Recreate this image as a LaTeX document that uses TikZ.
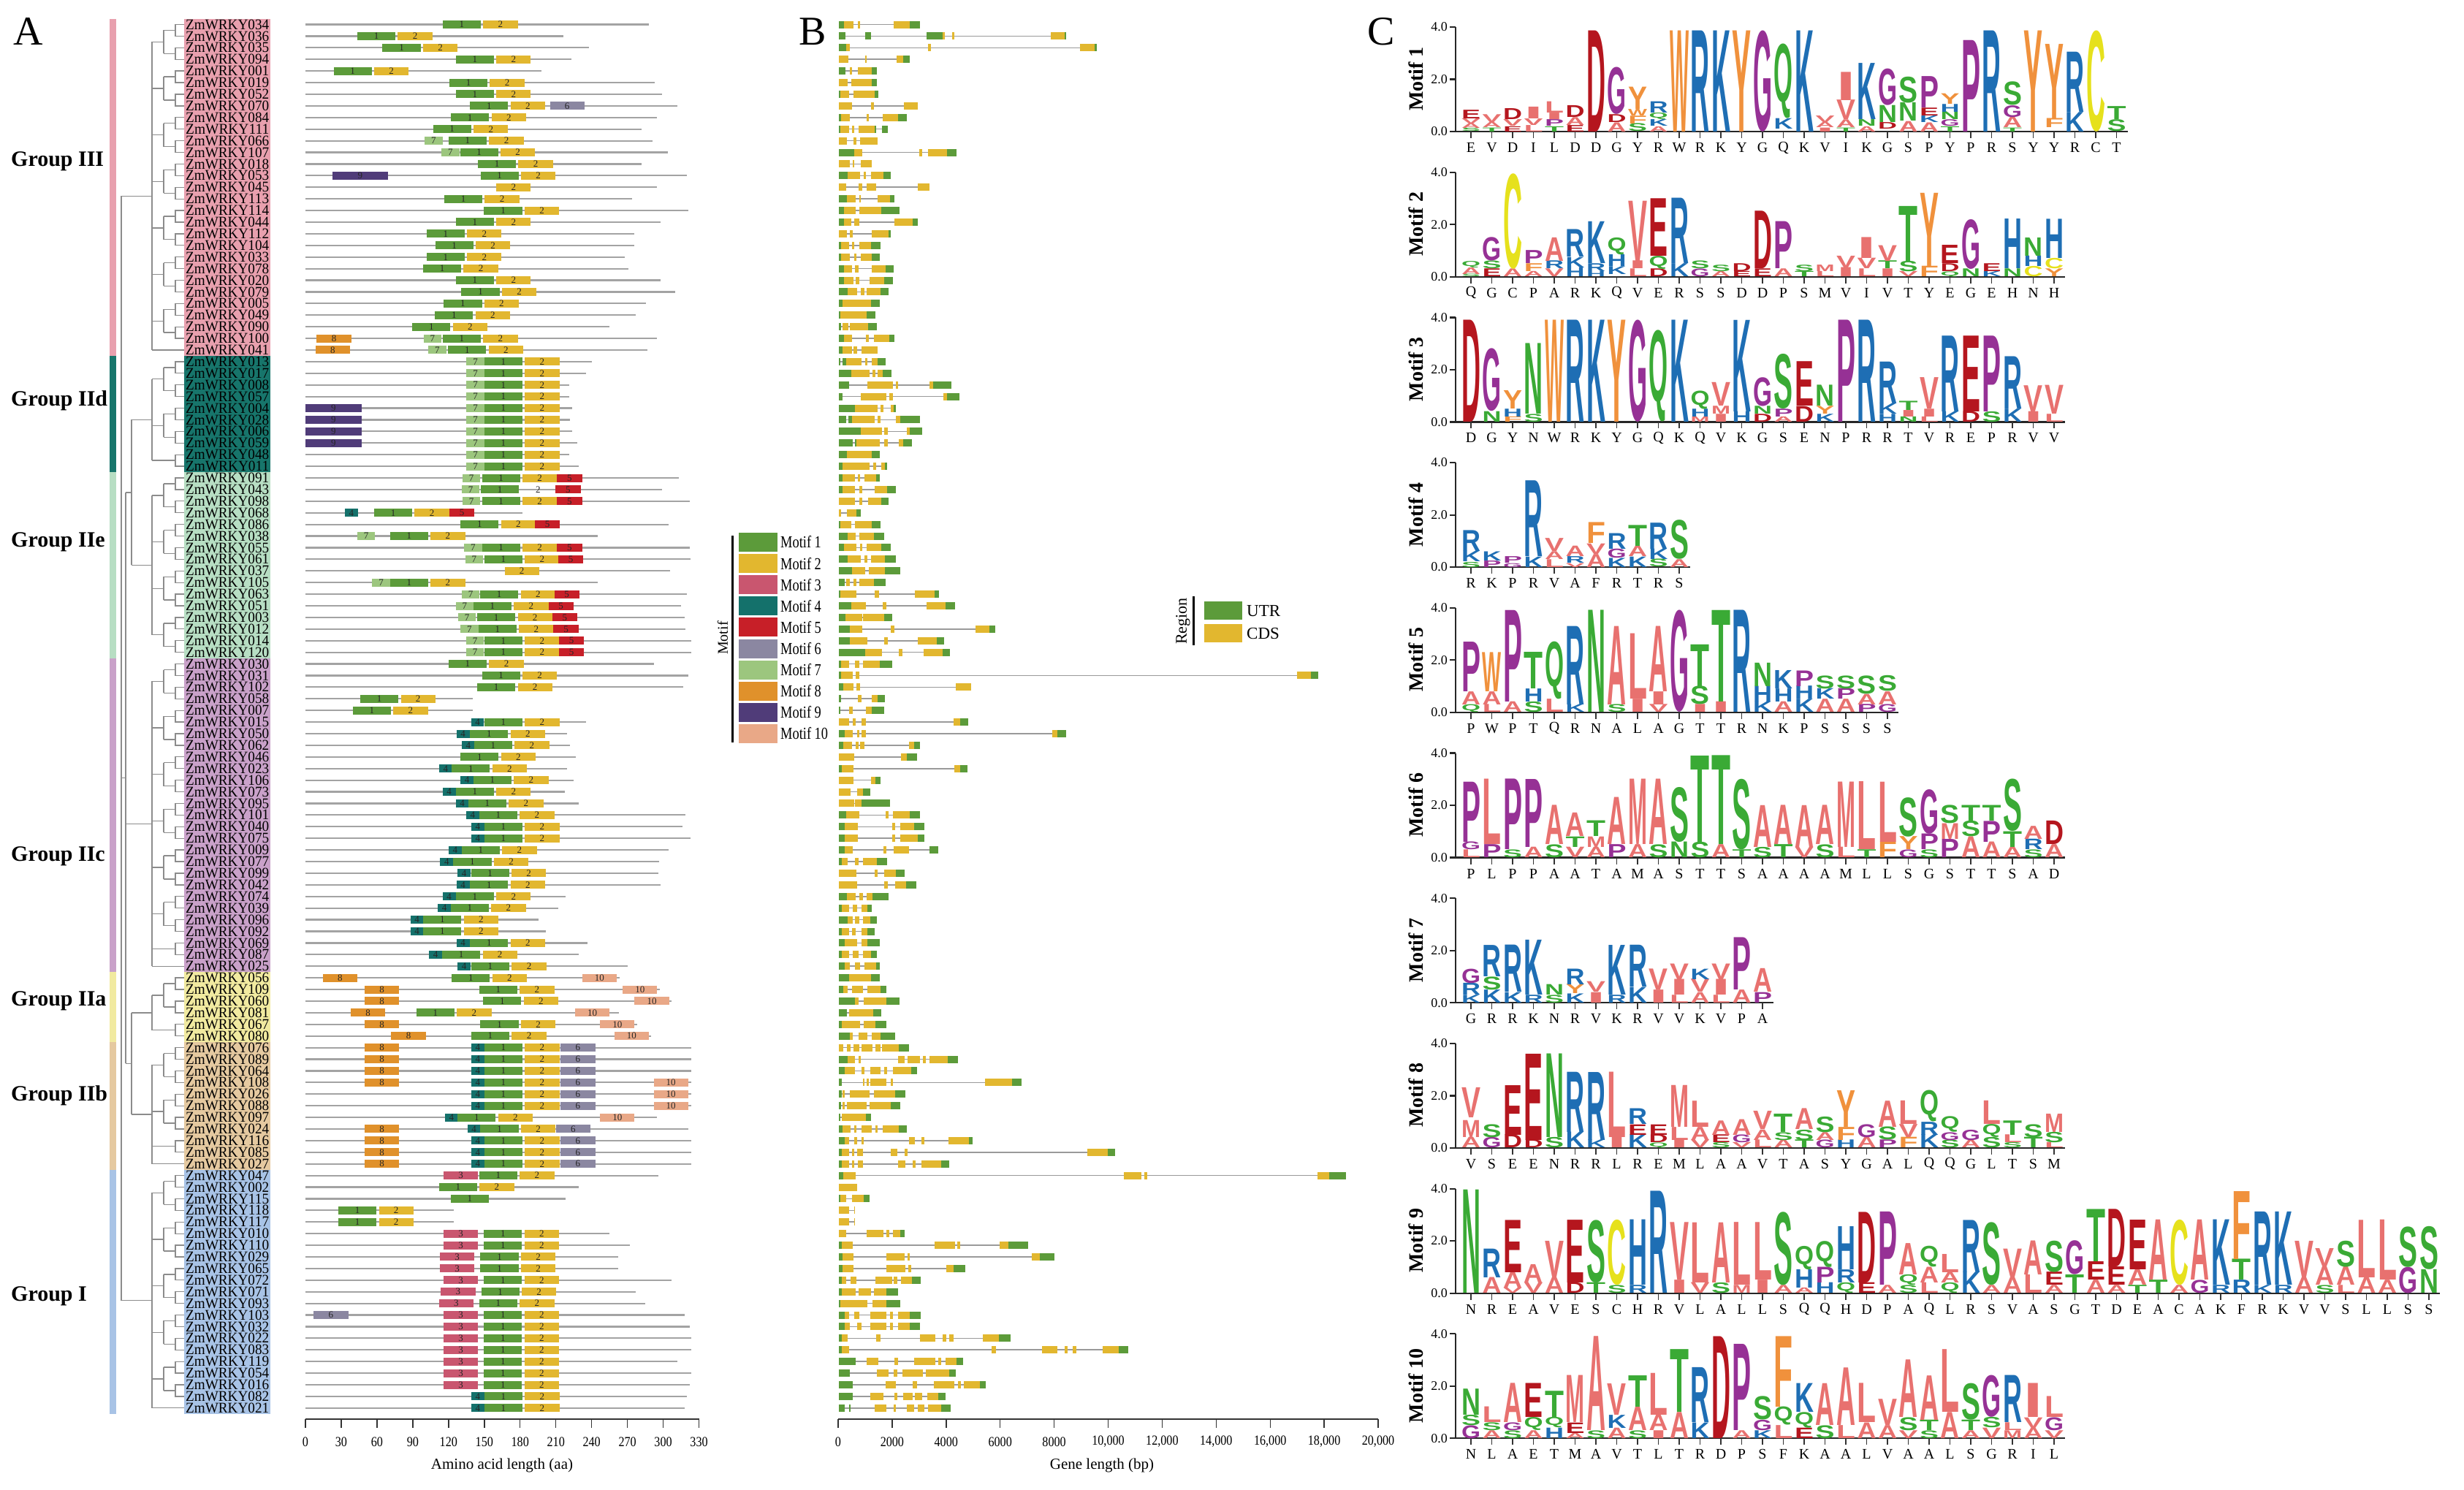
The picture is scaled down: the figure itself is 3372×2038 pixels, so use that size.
\documentclass[tikz,border=0pt]{standalone}
\usepackage{fontspec}
\setmainfont{Liberation Serif}
\newfontfamily\logofont{Liberation Sans}
\usepackage{graphicx}
\definecolor{m1}{HTML}{5C9B3A}\definecolor{m2}{HTML}{E2B72F}\definecolor{m3}{HTML}{C9566F}
\definecolor{m4}{HTML}{14716B}\definecolor{m5}{HTML}{C71F28}\definecolor{m6}{HTML}{8B87A1}
\definecolor{m7}{HTML}{9CC67E}\definecolor{m8}{HTML}{E0912B}\definecolor{m9}{HTML}{503C79}
\definecolor{m10}{HTML}{E9A887}
\definecolor{u}{HTML}{5C9B3A}\definecolor{c}{HTML}{E2B72F}
\definecolor{gIII}{HTML}{E8A0AE}\definecolor{gIId}{HTML}{17756B}\definecolor{gIIe}{HTML}{B7DEC3}
\definecolor{gIIc}{HTML}{C9A1C9}\definecolor{gIIa}{HTML}{F1EAA0}\definecolor{gIIb}{HTML}{E5C9A0}
\definecolor{gI}{HTML}{A8C3E6}
\definecolor{treegray}{HTML}{8C8C8C}\definecolor{pgray}{HTML}{A3A3A3}\definecolor{igray}{HTML}{9A9A9A}
\definecolor{aaD}{HTML}{B5161E}\definecolor{aaE}{HTML}{B5161E}
\definecolor{aaK}{HTML}{1E6EB4}\definecolor{aaR}{HTML}{1E6EB4}\definecolor{aaH}{HTML}{1E6EB4}
\definecolor{aaG}{HTML}{963195}\definecolor{aaP}{HTML}{963195}
\definecolor{aaQ}{HTML}{3AAA35}\definecolor{aaS}{HTML}{3AAA35}\definecolor{aaT}{HTML}{3AAA35}\definecolor{aaN}{HTML}{3AAA35}
\definecolor{aaW}{HTML}{F0913C}\definecolor{aaY}{HTML}{F0913C}\definecolor{aaF}{HTML}{F0913C}
\definecolor{aaC}{HTML}{E6E11C}
\definecolor{aaA}{HTML}{E8716F}\definecolor{aaV}{HTML}{E8716F}\definecolor{aaL}{HTML}{E8716F}\definecolor{aaI}{HTML}{E8716F}\definecolor{aaM}{HTML}{E8716F}
\pgfmathdeclarefunction{ry}{1}{\pgfmathparse{33.5+(#1-1)*15.91}}
\tikzset{
 tree/.style={draw=treegray,line width=1.3pt},
 pline/.style={draw=pgray,line width=2.2pt},
 intron/.style={draw=igray,line width=1.6pt},
 mnum/.style={inner sep=0pt,font=\fontsize{13}{13}\selectfont,text=black!85},
 axisl/.style={draw=black!80,line width=2.6pt},
 tickl/.style={draw=black!80,line width=1.4pt},
 ticklab/.style={inner sep=0pt,font=\fontsize{19}{19}\selectfont},
 axtitle/.style={inner sep=0pt,font=\fontsize{21}{21}\selectfont},
 glab/.style={inner sep=0pt,anchor=west,font=\bfseries\fontsize{30}{30}\selectfont},
 leg/.style={inner sep=0pt,font=\fontsize{23}{23}\selectfont},
 laxis/.style={draw=black!85,line width=2.2pt},
 xlab/.style={inner sep=0pt,font=\fontsize{20}{20}\selectfont},
 ytlab/.style={inner sep=0pt,font=\fontsize{18}{18}\selectfont},
 mlab/.style={inner sep=0pt,rotate=90,font=\bfseries\fontsize{28}{28}\selectfont},
 panel/.style={inner sep=0pt,font=\fontsize{56}{56}\selectfont}
}
% tree helpers
\newcommand\pairs[1]{\foreach \k in {#1}{%
  \pgfmathsetmacro\ya{ry(\k)}\pgfmathsetmacro\yb{ry(\k+1)}\pgfmathsetmacro\ym{ry(\k+0.5)}%
  \draw[tree] (252,\ya) -- (240,\ya) -- (240,\yb) -- (252,\yb);
  \draw[tree] (240,\ym) -- (224,\ym);}}
\newcommand\quads[1]{\foreach \k in {#1}{%
  \pgfmathsetmacro\ya{ry(\k+0.5)}\pgfmathsetmacro\yb{ry(\k+2.5)}\pgfmathsetmacro\ym{ry(\k+1.5)}%
  \draw[tree] (224,\ya) -- (224,\yb);
  \draw[tree] (224,\ym) -- (208,\ym);}}
\newcommand\tl[3]{\draw[tree] (#1,{ry(#3)}) -- (#2,{ry(#3)});}
\newcommand\tv[3]{\draw[tree] (#1,{ry(#2)}) -- (#1,{ry(#3)});}
% protein helpers
\newcommand\prot[2]{\draw[pline] (418,{ry(#1)}) -- ({418+1.632*(#2)},{ry(#1)});}
\newcommand\mb[3]{%
 \pgfmathsetmacro\mxa{418+1.632*(#3)}%
 \pgfmathsetmacro\mxb{418+1.632*(#3+{0,32,29,29,11,21,29,15,29,47,29}[#2])}%
 \pgfmathsetmacro\myy{ry(#1)}%
 \fill[fill=m#2] (\mxa,\myy-5.5) rectangle (\mxb,\myy+5.5);
 \node[mnum] at ({(\mxa+\mxb)/2},\myy) {#2};}
\newcommand\gy[2]{\mb{#1}{1}{#2}\mb{#1}{2}{#2+34}}
% gene helper
\newcommand\gene[4]{%
 \pgfmathsetmacro\gyy{ry(#1)}%
 \draw[intron] (#2,\gyy) -- (#3,\gyy);
 \foreach \sa/\ea/\ca in {#4} {\fill[fill=\ca] (\sa,\gyy-5) rectangle (\ea,\gyy+5);}}
% logo helpers (35.75 px per bit)
\newcommand\lgo[5]{%
 \pgfmathsetmacro\lx{2013+(#2-1)*28.5}%
 \pgfmathsetmacro\lyy{180+(#1-1)*198.7-(#4)*35.75}%
 \pgfmathsetmacro\lh{max(((#5)-(#4))*35.75,0.5)}%
 \node[inner sep=0pt,outer sep=0pt,anchor=south] at (\lx,\lyy) {\textcolor{aa#3}{\resizebox*{26pt}{\lh pt}{\logofont\bfseries #3}}};}
\newcommand\logoset[2]{\foreach \qp/\ql/\qb/\qt in {#2} {\lgo{#1}{\qp}{\ql}{\qb}{\qt}}}
\newcommand\logoaxis[3]{%
 \pgfmathsetmacro\yz{180+(#1-1)*198.7}%
 \pgfmathsetmacro\xe{2013+(#2-1)*28.5+15}%
 \draw[laxis] (1992,\yz-143) -- (1992,\yz) -- (\xe,\yz);
 \foreach \tv in {0,2,4} {\draw[laxis] (1992,\yz-\tv*35.75) -- (1984,\yz-\tv*35.75);
   \node[ytlab,anchor=east] at (1981,\yz-\tv*35.75) {\tv.0};}
 \foreach \lt [count=\lp] in {#3} {\draw[tickl] ({2013+(\lp-1)*28.5},\yz) -- ++(0,9);
   \node[xlab] at ({2013+(\lp-1)*28.5},\yz+22) {\lt};}
 \node[mlab] at (1938,\yz-72) {Motif #1};}
\begin{document}
\begin{tikzpicture}[x=1pt,y=-1pt]
\useasboundingbox (0,0) rectangle (3372,2038);
\fill[white] (0,0) rectangle (3372,2038);
% ---------- panel letters
\node[panel] at (39,43) {A};
\node[panel] at (1112,43) {B};
\node[panel] at (1890,43) {C};
% ---------- group strips
\foreach \a/\b/\col in {1/29/gIII,30/39/gIId,40/55/gIIe,56/82/gIIc,83/88/gIIa,89/99/gIIb,100/120/gI}{
 \fill[fill=\col] (150,{ry(\a-0.5)}) rectangle (159,{ry(\b+0.5)});
 \fill[fill=\col] (252,{ry(\a-0.5)}) rectangle (370,{ry(\b+0.5)});}
\node[glab] at (15,221) {Group III};
\node[glab] at (15,548) {Group IId};
\node[glab] at (15,742) {Group IIe};
\node[glab] at (15,1172) {Group IIc};
\node[glab] at (15,1370) {Group IIa};
\node[glab] at (15,1499) {Group IIb};
\node[glab] at (15,1774) {Group I};
% ---------- tree
\pairs{1,3,...,27}\quads{1,5,...,25}\tl{208}{252}{29}\tv{208}{2.5}{29}\tl{166}{208}{15.75}
\pairs{30,32,...,38}\quads{30,34}\tl{208}{224}{38.5}\tv{208}{31.5}{38.5}\tl{180}{208}{35}
\pairs{40,42,...,54}\quads{40,44,48,52}\tv{208}{41.5}{53.5}\tl{180}{208}{47.5}
\pairs{56,58,...,80}\quads{56,60,...,76}\tl{208}{224}{80.5}\tl{208}{252}{82}\tv{208}{57.5}{82}\tl{172}{208}{69.75}
\pairs{83,85,87}\quads{83}\tl{208}{224}{87.5}\tv{208}{84.5}{87.5}\tl{180}{208}{86}
\pairs{89,91,...,97}\quads{89,93}\tl{208}{224}{97.5}\tl{208}{252}{99}\tv{208}{90.5}{99}\tl{180}{208}{94.75}
\pairs{100,102,...,118}\quads{100,104,...,116}\tl{208}{252}{120}\tv{208}{101.5}{120}\tl{166}{208}{110.75}
\tv{180}{35}{47.5}\tl{172}{180}{41.25}
\tv{180}{86}{94.75}\tl{172}{180}{90.375}
\tv{172}{41.25}{90.375}\tl{166}{172}{65.8}
\tv{166}{15.75}{110.75}
% ---------- gene names
\foreach \r/\gn in {1/034,2/036,3/035,4/094,5/001,6/019,7/052,8/070,9/084,10/111,11/066,12/107,13/018,14/053,15/045,16/113,17/114,18/044,19/112,20/104,21/033,22/078,23/020,24/079,25/005,26/049,27/090,28/100,29/041,30/013,31/017,32/008,33/057,34/004,35/028,36/006,37/059,38/048,39/011,40/091,41/043,42/098,43/068,44/086,45/038,46/055,47/061,48/037,49/105,50/063,51/051,52/003,53/012,54/014,55/120,56/030,57/031,58/102,59/058,60/007,61/015,62/050,63/062,64/046,65/023,66/106,67/073,68/095,69/101,70/040,71/075,72/009,73/077,74/099,75/042,76/074,77/039,78/096,79/092,80/069,81/087,82/025,83/056,84/109,85/060,86/081,87/067,88/080,89/076,90/089,91/064,92/108,93/026,94/088,95/097,96/024,97/116,98/085,99/027,100/047,101/002,102/115,103/118,104/117,105/010,106/110,107/029,108/065,109/072,110/071,111/093,112/103,113/032,114/022,115/083,116/119,117/054,118/016,119/082,120/021}
 {\node[inner sep=0pt,anchor=west] at (254,{ry(\r)}) {\resizebox{114pt}{13.5pt}{ZmWRKY\gn}};}
% ---------- proteins (panel A)
\prot{1}{288}\gy{1}{115}
\prot{2}{216}\gy{2}{43.5}
\prot{3}{238}\gy{3}{64.6}
\prot{4}{223}\gy{4}{126}
\prot{5}{198}\gy{5}{23.6}
\prot{6}{293}\gy{6}{120.7}
\prot{7}{299}\gy{7}{126}
\prot{8}{312}\gy{8}{138}\mb{8}{6}{205}
\prot{9}{294.5}\gy{9}{122}
\prot{10}{282}\gy{10}{107}
\prot{11}{291}\mb{11}{7}{100}\gy{11}{120}
\prot{12}{304}\mb{12}{7}{114}\gy{12}{129.6}
\prot{13}{282}\gy{13}{144.6}
\prot{14}{320}\mb{14}{9}{22.4}\gy{14}{146.8}
\prot{15}{294.5}\mb{15}{2}{160}
\prot{16}{274}\gy{16}{116.4}
\prot{17}{321}\gy{17}{149.8}
\prot{18}{298}\gy{18}{126}
\prot{19}{276}\gy{19}{101.5}
\prot{20}{276}\gy{20}{108.8}
\prot{21}{268}\gy{21}{101.5}
\prot{22}{271}\gy{22}{98.6}
\prot{23}{298}\gy{23}{126}
\prot{24}{310}\gy{24}{130.8}
\prot{25}{285.5}\gy{25}{116}
\prot{26}{276.8}\gy{26}{108.6}
\prot{27}{255}\gy{27}{89.6}
\prot{28}{295}\mb{28}{8}{9.4}\mb{28}{7}{99}\gy{28}{115}
\prot{29}{287}\mb{29}{8}{8.4}\mb{29}{7}{103}\gy{29}{119.6}
\foreach \r/\L in {30/240,31/235,32/221,33/221,34/223.5,35/221.7,36/223.5,37/228,38/221,39/229}
 {\prot{\r}{\L}\mb{\r}{7}{135}\gy{\r}{150}}
\foreach \r in {34,35,36,37} {\mb{\r}{9}{0}}
\prot{40}{313}\mb{40}{7}{131.6}\gy{40}{148}\mb{40}{5}{211}
\prot{41}{299}\mb{41}{7}{131}\mb{41}{1}{147}\node[mnum] at ({418+1.632*195},{ry(41)}) {2};\mb{41}{5}{209.7}
\prot{42}{322}\mb{42}{7}{131.6}\gy{42}{148}\mb{42}{5}{211}
\prot{43}{181.8}\mb{43}{4}{33}\gy{43}{57.6}\mb{43}{5}{120.7}
\prot{44}{304.5}\gy{44}{130}\mb{44}{5}{192.4}
\prot{45}{244.8}\mb{45}{7}{43.5}\gy{45}{70.9}
\prot{46}{322}\mb{46}{7}{133}\gy{46}{148}\mb{46}{5}{211}
\prot{47}{323}\mb{47}{7}{134}\gy{47}{150}\mb{47}{5}{212}
\prot{48}{306}\mb{48}{2}{167}
\prot{49}{244.8}\mb{49}{7}{56}\gy{49}{70.9}
\prot{50}{320}\mb{50}{7}{131}\gy{50}{146.5}\mb{50}{5}{208.7}
\prot{51}{314.7}\mb{51}{7}{126}\gy{51}{140.8}\mb{51}{5}{203.8}
\prot{52}{318}\mb{52}{7}{128}\gy{52}{144}\mb{52}{5}{207}
\prot{53}{318.6}\mb{53}{7}{130}\gy{53}{145}\mb{53}{5}{208}
\prot{54}{323.5}\mb{54}{7}{134.8}\gy{54}{150}\mb{54}{5}{212.6}
\prot{55}{323.5}\mb{55}{7}{134.8}\gy{55}{150}\mb{55}{5}{212.6}
\prot{56}{292}\gy{56}{120}
\prot{57}{321}\gy{57}{148}
\prot{58}{317}\gy{58}{144}
\prot{59}{140.4}\gy{59}{46}
\prot{60}{140.4}\gy{60}{39.7}
\prot{64}{226.7}\gy{64}{130}
\foreach \r/\L/\f/\g in {61/235/138.8/150,62/219.5/126.6/138,63/222/131/141.4,65/219.5/112/122.7,66/225/130/140.8,67/217.5/115/126,68/229.4/126/136.5,69/318.6/134.8/145.7,70/316/139/150,71/323/139/150,72/304.5/120/131,73/296.6/113/124,74/295.7/127.6/138.8,75/298/126.6/138,76/218/115/126,77/212/111/121.8,78/195.6/88/98.8,79/201.5/88/98.8,80/236.5/126.6/138,81/229.4/103.7/114.6,82/270/127.6/139}
 {\prot{\r}{\L}\mb{\r}{4}{\f}\gy{\r}{\g}}
\foreach \r/\L/\e/\g/\t in {83/263.5/14.5/122.7/232,84/297.3/49.6/145.7/266,85/307/49.6/149/276,86/263/38/93/226,87/278/49.6/146.7/247,88/289.8/71.9/139/259}
 {\prot{\r}{\L}\mb{\r}{8}{\e}\gy{\r}{\g}\mb{\r}{10}{\t}}
\foreach \r in {89,90,91,92,97,98,99} {\prot{\r}{323.5}\mb{\r}{8}{49.6}\mb{\r}{4}{139}\gy{\r}{150}\mb{\r}{6}{214}}
\foreach \r in {93,94} {\prot{\r}{323.5}\mb{\r}{4}{139}\gy{\r}{150}\mb{\r}{6}{214}}
\foreach \r in {92,93,94} {\mb{\r}{10}{292}}
\prot{95}{294.7}\mb{95}{4}{117}\gy{95}{127.6}\mb{95}{10}{247}
\prot{96}{321}\mb{96}{8}{49.6}\mb{96}{4}{135.8}\gy{96}{146.7}\mb{96}{6}{210}
\prot{100}{295.7}\mb{100}{3}{115.8}\gy{100}{145.7}
\prot{101}{229.4}\gy{101}{112}
\prot{102}{218}\mb{102}{1}{121.8}
\prot{103}{124.4}\gy{103}{27.6}
\prot{104}{124.4}\gy{104}{27.6}
\foreach \r/\L/\t/\g in {105/254.7/115.8/149.6,106/272/115.8/149.6,107/262/112.7/146.7,108/262/112.7/146.7,109/307/115.8/149.6,110/277/113.5/147.4,111/285/112/145.7,112/318/115.8/149.6,113/322/115.8/149.6,114/323.5/115.8/149.6,115/323.5/115.8/149.6,116/312/115.8/149.6,117/323.5/115.8/149.6,118/322/115.8/149.6}
 {\prot{\r}{\L}\mb{\r}{3}{\t}\gy{\r}{\g}}
\mb{112}{6}{6.9}
\prot{119}{320}\mb{119}{4}{139}\gy{119}{150}
\prot{120}{318}\mb{120}{4}{139}\gy{120}{150}
% ---------- axis A
\draw[axisl] (418,1942) -- (956.6,1942);
\foreach \i [evaluate=\i as \lab using int(30*\i)] in {0,...,11}
 {\draw[tickl] ({418+48.96*\i},1942) -- ({418+48.96*\i},1954);
  \node[ticklab] at ({418+48.96*\i},1973) {\scalebox{0.85}[1]{\lab}};}
\node[axtitle] at (687,2005) {Amino acid length (aa)};
% ---------- motif legend
\draw[line width=3pt] (1002.5,733) -- (1002.5,1016);
\node[rotate=90,inner sep=0pt,font=\fontsize{20}{20}\selectfont] at (989,873) {Motif};
\foreach \k in {1,...,10} {\pgfmathsetmacro\lyl{729+(\k-1)*29.1}
 \fill[fill=m\k] (1011,\lyl) rectangle (1064,\lyl+26);
 \node[leg,anchor=west] at (1068,\lyl+13) {\scalebox{0.8}[1]{Motif \k}};}
% ---------- gene structures (panel B)
\begin{scope}[shift={(1130,0)},xscale=0.4464]
\gene{1}{40}{290}{40/57/u,57/85/c,98/105/c,208/258/c,258/290/u}
\gene{2}{40}{738}{40/60/u,120/138/u,308/358/u,358/366/c,388/395/c,690/733/c,733/738/u}
\gene{3}{40}{832}{40/62/u,62/75/c,314/322/c,780/825/c,825/832/u}
\gene{4}{40}{258}{40/70/c,120/126/c,218/237/c,237/258/u}
\gene{5}{40}{156}{40/60/u,73/80/c,98/140/c,140/156/u}
\gene{6}{40}{156}{40/67/c,78/140/c,140/156/u}
\gene{7}{40}{162}{40/45/u,45/72/c,85/150/c,150/162/u}
\gene{8}{40}{283}{40/80/c,138/148/c,240/283/c}
\gene{9}{40}{248}{40/46/u,46/75/c,125/132/c,175/222/c,222/248/u}
\gene{10}{40}{190}{40/45/u,45/72/c,80/88/c,100/150/c,150/155/u,172/190/u}
\gene{11}{40}{158}{40/66/c,85/93/c,105/158/c}
\gene{12}{40}{400}{40/88/u,88/113/c,286/295/c,313/372/c,372/400/u}
\gene{13}{40}{140}{40/75/c,82/88/c,108/140/c}
\gene{14}{40}{200}{40/68/u,68/105/c,116/124/c,138/178/c,178/200/u}
\gene{15}{40}{318}{40/62/c,100/113/c,125/155/c,282/318/c}
\gene{16}{40}{210}{40/65/u,65/92/c,102/107/c,158/198/c,198/210/u}
\gene{17}{40}{226}{40/55/u,55/92/c,103/170/c,170/226/u}
\gene{18}{40}{282}{40/55/u,55/78/c,88/102/c,210/266/c,266/282/u}
\gene{19}{40}{200}{40/65/c,75/82/c,142/192/c,192/200/u}
\gene{20}{40}{167}{40/48/u,48/72/c,80/88/c,102/138/c,138/167/u}
\gene{21}{40}{165}{40/48/u,48/75/c,88/95/c,108/142/c,142/165/u}
\gene{22}{40}{208}{40/55/u,55/80/c,90/100/c,140/183/c,183/208/u}
\gene{23}{40}{207}{40/55/u,55/85/c,92/102/c,135/180/c,180/207/u}
\gene{24}{40}{193}{40/68/u,68/96/c,108/118/c,125/168/c,168/193/u}
\gene{25}{40}{165}{40/52/u,52/138/c,138/165/u}
\gene{26}{40}{152}{40/45/u,45/125/c,125/152/u}
\gene{27}{40}{156}{40/47/u,52/70/c,75/130/c,130/156/u}
\gene{28}{40}{210}{40/55/u,55/80/c,123/133/c,148/195/c,195/210/u}
\gene{29}{40}{158}{40/52/u,52/80/c,86/97/c,110/158/c}
\gene{30}{40}{183}{40/45/u,52/62/u,62/110/c,120/128/c,140/160/c,160/183/u}
\gene{31}{40}{202}{40/78/u,78/135/c,143/152/c,160/175/c,175/202/u}
\gene{32}{40}{385}{40/72/u,128/205/c,215/222/c,318/330/c,330/385/u}
\gene{33}{40}{410}{40/52/u,107/185/c,195/205/c,360/372/c,372/410/u}
\gene{34}{40}{215}{40/90/u,90/158/c,168/178/c,200/208/c,208/215/u}
\gene{35}{40}{290}{40/62/u,70/80/u,80/150/c,160/168/c,215/228/c,228/290/u}
\gene{36}{40}{295}{40/107/u,107/172/c,180/190/c,248/258/c,258/295/u}
\gene{37}{40}{265}{40/82/u,90/95/u,95/165/c,180/190/c,225/238/c,238/265/u}
\gene{38}{40}{165}{40/65/u,65/142/c,142/165/u}
\gene{39}{40}{188}{40/52/u,52/135/c,145/155/c,170/182/c,182/188/u}
\gene{40}{40}{166}{40/52/u,52/90/c,98/106/c,118/155/c,155/166/u}
\gene{41}{40}{216}{40/52/u,52/90/c,103/112/c,150/188/c,188/216/u}
\gene{42}{40}{193}{40/90/c,102/112/c,130/170/c,170/193/u}
\gene{43}{40}{108}{40/48/c,65/95/c,95/108/u}
\gene{44}{40}{167}{40/45/u,45/78/c,90/142/c,142/167/u}
\gene{45}{40}{180}{40/68/u,68/92/c,103/148/c,148/180/u}
\gene{46}{40}{200}{40/55/u,55/95/c,105/113/c,125/170/c,170/200/u}
\gene{47}{40}{216}{40/68/u,68/108/c,118/128/c,138/182/c,182/216/u}
\gene{48}{40}{228}{40/80/u,80/120/c,133/182/c,182/228/u}
\gene{49}{40}{183}{40/58/u,62/73/c,85/95/c,103/148/c,148/183/u}
\gene{50}{40}{348}{40/45/u,45/93/c,150/163/c,273/333/c,333/348/u}
\gene{51}{40}{397}{40/78/u,78/123/c,175/185/c,308/367/c,367/397/u}
\gene{52}{40}{203}{40/60/u,60/112/c,115/180/c,180/203/u}
\gene{53}{40}{520}{40/75/u,75/113/c,200/210/c,460/502/c,502/520/u}
\gene{54}{40}{362}{40/75/u,75/128/c,180/190/c,282/340/c,340/362/u}
\gene{55}{40}{380}{40/120/u,120/172/c,225/235/c,300/358/c,358/380/u}
\gene{56}{40}{203}{40/47/u,47/72/c,90/102/c,115/165/c,165/203/u}
\gene{57}{40}{1510}{40/48/u,48/82/c,92/102/c,1445/1487/c,1487/1510/u}
\gene{58}{40}{445}{40/53/u,53/85/c,95/105/c,398/445/c}
\gene{59}{40}{182}{40/47/u,98/110/c,140/158/c,158/182/u}
\gene{60}{40}{180}{40/45/u,72/83/c,123/142/c,142/180/u}
\end{scope}
\begin{scope}[shift={(1130,0)},xscale=0.5741]
\gene{61}{32}{340}{32/55/c,65/72/c,85/95/c,305/320/c,320/340/u}
\gene{62}{32}{573}{32/45/u,45/65/c,75/80/c,85/95/c,540/552/c,552/573/u}
\gene{63}{32}{225}{32/42/u,42/62/c,72/78/c,82/92/c,198/210/c,210/225/u}
\gene{64}{32}{218}{32/68/c,180/193/c,193/218/u}
\gene{65}{32}{338}{32/38/u,38/67/c,307/320/c,320/338/u}
\gene{66}{32}{130}{32/67/c,108/118/c,118/130/u}
\gene{67}{32}{106}{32/60/c,75/88/c,88/106/u}
\gene{68}{32}{153}{32/68/c,70/85/c,85/153/u}
\gene{69}{32}{225}{32/48/u,48/80/c,142/150/c,160/200/c,200/225/u}
\gene{70}{32}{235}{32/45/u,45/76/c,158/166/c,178/210/c,210/235/u}
\gene{71}{32}{235}{32/45/u,45/76/c,158/166/c,178/220/c,220/235/u}
\gene{72}{32}{268}{32/45/u,45/65/c,137/145/c,162/198/c,248/268/u}
\gene{73}{32}{146}{32/38/u,38/52/c,70/78/c,88/122/c,122/146/u}
\gene{74}{32}{188}{32/73/c,116/124/c,140/167/c,167/188/u}
\gene{75}{32}{216}{32/75/c,140/148/c,165/192/c,192/216/u}
\gene{76}{32}{150}{32/50/u,50/72/c,80/88/c,98/112/c,112/150/u}
\gene{77}{32}{110}{32/38/u,38/55/c,65/75/c,86/100/c,100/110/u}
\gene{78}{32}{122}{32/52/u,52/65/c,70/80/c,88/106/c,106/122/u}
\gene{79}{32}{116}{32/38/u,38/55/c,63/72/c,85/100/c,100/116/u}
\gene{80}{32}{128}{32/45/u,45/75/c,85/100/c,100/128/u}
\gene{81}{32}{122}{32/38/u,38/55/c,65/78/c,88/108/c,108/122/u}
\gene{82}{32}{128}{32/45/u,45/58/c,70/82/c,92/120/c,120/128/u}
\gene{83}{32}{128}{32/55/u,55/108/c,108/128/u}
\gene{84}{32}{144}{32/42/u,42/52/c,62/88/c,100/130/c,130/144/u}
\gene{85}{32}{176}{32/70/u,70/78/c,90/145/c,145/176/u}
\gene{86}{32}{132}{32/50/u,55/113/c,113/132/u}
\gene{87}{32}{145}{32/38/u,38/82/c,90/118/c,118/145/u}
\gene{88}{32}{166}{32/58/u,58/65/c,78/100/c,110/130/c,130/166/u}
\gene{89}{32}{198}{32/42/c,50/60/c,66/80/c,85/112/c,118/130/c,134/175/c,175/198/u}
\gene{90}{32}{316}{32/52/u,52/70/c,78/83/c,173/188/c,195/225/c,232/238/c,248/290/c,290/316/u}
\gene{91}{32}{218}{32/45/u,45/70/c,85/92/c,107/130/c,140/146/c,160/203/c,203/218/u}
\gene{92}{32}{467}{32/38/u,88/93/c,97/102/c,106/145/c,155/160/c,380/445/c,445/467/u}
\gene{93}{32}{190}{32/38/u,40/45/c,57/105/c,115/165/c,165/190/u}
\gene{94}{32}{177}{32/37/u,40/45/c,50/98/c,105/155/c,155/177/u}
\gene{95}{32}{108}{32/35/u,38/95/c,95/108/u}
\gene{96}{32}{193}{32/40/u,40/60/c,68/73/c,85/110/c,118/123/c,135/175/c,175/193/u}
\gene{97}{32}{350}{32/45/u,45/55/c,68/75/c,85/90/c,198/213/c,228/235/c,292/342/c,342/350/u}
\gene{98}{32}{690}{32/38/u,38/55/c,62/68/c,75/88/c,155/170/c,188/195/c,623/672/c,672/690/u}
\gene{99}{32}{295}{32/38/u,38/55/c,62/68/c,76/88/c,172/190/c,207/215/c,228/276/c,276/295/u}
\gene{100}{32}{1240}{32/42/u,42/72/c,710/752/c,760/767/c,1172/1200/c,1200/1240/u}
\gene{101}{32}{75}{32/75/c}
\gene{102}{32}{104}{32/35/u,35/48/c,62/90/c,90/104/u}
\gene{103}{32}{70}{32/55/c,68/70/c}
\gene{104}{32}{70}{32/55/c,68/70/c}
\gene{105}{32}{188}{32/48/c,98/138/c,145/152/c,160/178/c,178/188/u}
\gene{106}{32}{482}{32/38/u,38/65/c,260/308/c,314/320/c,415/435/c,435/482/u}
\gene{107}{32}{545}{32/40/u,40/67/c,145/188/c,195/200/c,492/510/c,510/545/u}
\gene{108}{32}{332}{32/40/u,40/67/c,145/190/c,197/203/c,288/305/c,305/332/u}
\gene{109}{32}{227}{32/38/u,38/48/c,60/73/c,118/158/c,162/170/c,180/205/c,205/227/u}
\gene{110}{32}{172}{32/38/u,38/72/c,78/108/c,115/145/c,145/172/u}
\gene{111}{32}{178}{32/35/u,35/100/c,112/145/c,145/178/u}
\gene{112}{32}{226}{32/45/u,45/55/c,68/80/c,107/145/c,153/160/c,172/200/c,200/226/u}
\gene{113}{32}{224}{32/45/u,45/58/c,75/85/c,107/145/c,153/160/c,172/200/c,200/224/u}
\gene{114}{32}{440}{32/38/u,38/52/c,120/130/c,225/262/c,278/287/c,295/305/c,375/413/c,413/440/u}
\gene{115}{32}{721}{32/38/u,38/55/c,395/405/c,515/552/c,570/577/c,588/597/c,660/698/c,698/721/u}
\gene{116}{32}{328}{32/72/u,97/125/c,163/172/c,210/262/c,268/275/c,285/312/c,312/328/u}
\gene{117}{32}{310}{32/57/u,122/150/c,162/170/c,183/232/c,238/295/c,295/310/u}
\gene{118}{32}{382}{32/65/u,142/168/c,208/218/c,258/307/c,315/322/c,330/368/c,368/382/u}
\gene{119}{32}{285}{32/65/u,107/137/c,163/170/c,185/208/c,213/230/c,242/268/c,268/285/u}
\gene{120}{32}{298}{32/45/u,55/60/u,117/145/c,162/168/c,193/210/c,220/235/c,243/275/c,275/298/u}
\end{scope}
% ---------- axis B
\draw[axisl] (1147,1942) -- (1886,1942);
\foreach \i/\lab in {0/0,1/2000,2/4000,3/6000,4/8000,5/{10,000},6/{12,000},7/{14,000},8/{16,000},9/{18,000},10/{20,000}}
 {\draw[tickl] ({1147+73.9*\i},1942) -- ({1147+73.9*\i},1954);
  \node[ticklab] at ({1147+73.9*\i},1973) {\scalebox{0.85}[1]{\lab}};}
\node[axtitle] at (1508,2005) {Gene length (bp)};
% ---------- region legend
\node[rotate=90,inner sep=0pt,font=\fontsize{22}{22}\selectfont] at (1619,850) {Region};
\draw[line width=3pt] (1633.6,816) -- (1633.6,883);
\fill[fill=u] (1648,823) rectangle (1700,848);
\fill[fill=c] (1648,854) rectangle (1700,879);
\node[leg,anchor=west] at (1706,836) {UTR};
\node[leg,anchor=west] at (1706,867) {CDS};
% ---------- logos (panel C)
\logoaxis{1}{32}{E,V,D,I,L,D,D,G,Y,R,W,R,K,Y,G,Q,K,V,I,K,G,S,P,Y,P,R,S,Y,Y,R,C,T}
\logoaxis{2}{29}{Q,G,C,P,A,R,K,Q,V,E,R,S,S,D,D,P,S,M,V,I,V,T,Y,E,G,E,H,N,H}
\logoaxis{3}{29}{D,G,Y,N,W,R,K,Y,G,Q,K,Q,V,K,G,S,E,N,P,R,R,T,V,R,E,P,R,V,V}
\logoaxis{4}{11}{R,K,P,R,V,A,F,R,T,R,S}
\logoaxis{5}{21}{P,W,P,T,Q,R,N,A,L,A,G,T,T,R,N,K,P,S,S,S,S}
\logoaxis{6}{29}{P,L,P,P,A,A,T,A,M,A,S,T,T,S,A,A,A,A,M,L,L,S,G,S,T,T,S,A,D}
\logoaxis{7}{15}{G,R,R,K,N,R,V,K,R,V,V,K,V,P,A}
\logoaxis{8}{29}{V,S,E,E,N,R,R,L,R,E,M,L,A,A,V,T,A,S,Y,G,A,L,Q,Q,G,L,T,S,M}
\logoaxis{9}{47}{N,R,E,A,V,E,S,C,H,R,V,L,A,L,L,S,Q,Q,H,D,P,A,Q,L,R,S,V,A,S,G,T,D,E,A,C,A,K,F,R,K,V,V,S,L,L,S,S}
\logoaxis{10}{29}{N,L,A,E,T,M,A,V,T,L,T,R,D,P,S,F,K,A,A,L,V,A,A,L,S,G,R,I,L}
\logoset{1}{1/S/0/0.12,1/A/0.12/0.3,1/V/0.3/0.5,1/E/0.5/0.83,2/T/0/0.15,2/A/0.15/0.35,2/V/0.35/0.65,3/E/0/0.2,3/V/0.2/0.45,3/D/0.45/0.87,4/L/0/0.25,4/V/0.25/0.5,4/I/0.5/0.95,5/T/0/0.2,5/P/0.2/0.45,5/I/0.45/0.7,5/L/0.7/1.13,6/E/0/0.25,6/A/0.25/0.55,6/D/0.55/1.0,7/D/0/3.87,8/A/0/0.35,8/D/0.35/0.65,8/G/0.65/2.45,9/S/0/0.3,9/F/0.3/0.6,9/W/0.6/0.85,9/Y/0.85/1.7,10/A/0/0.2,10/K/0.2/0.45,10/Q/0.45/0.7,10/R/0.7/1.13,11/W/0/3.87,12/R/0/3.87,13/K/0/3.87,14/Y/0/3.87,15/G/0/3.87,16/K/0.1/0.5,16/Q/0.5/3.35,17/K/0/3.87,18/I/0/0.15,18/A/0.15/0.35,18/V/0.35/0.6,19/T/0/0.15,19/A/0.15/0.45,19/V/0.45/1.2,19/I/1.2/2.28,20/A/0/0.2,20/N/0.2/0.45,20/K/0.45/2.6,21/D/0.1/0.35,21/N/0.35/1.0,21/G/1.0/2.4,22/A/0/0.4,22/N/0.4/1.1,22/S/1.1/2.1,23/A/0/0.35,23/K/0.35/0.6,23/E/0.6/0.9,23/P/0.9/2.1,24/T/0/0.2,24/G/0.2/0.45,24/N/0.45/0.75,24/H/0.75/1.05,24/Y/1.05/1.45,25/P/0/3.5,26/R/0/3.87,27/T/0/0.15,27/A/0.15/0.55,27/G/0.55/1.0,27/S/1.0/1.9,28/Y/0/3.87,29/F/0.15/0.5,29/Y/0.5/3.35,30/K/0/0.75,30/R/0.75/3.05,31/C/0/3.87,32/S/0/0.45,32/T/0.45/0.95}
\logoset{2}{1/S/0/0.1,1/A/0.1/0.35,1/Q/0.35/0.6,2/E/0/0.3,2/S/0.3/0.6,2/G/0.6/1.5,3/A/0/0.3,3/C/0.3/3.95,4/A/0/0.2,4/F/0.2/0.5,4/P/0.5/1.0,5/V/0/0.3,5/R/0.3/0.6,5/A/0.6/1.5,6/H/0/0.35,6/K/0.35/0.75,6/R/0.75/1.8,7/H/0/0.2,7/R/0.2/0.5,7/K/0.5/2.1,8/K/0.1/0.4,8/H/0.4/0.85,8/Q/0.85/1.5,9/L/0/0.3,9/I/0.3/0.6,9/V/0.6/2.9,10/D/0/0.3,10/Q/0.3/0.8,10/E/0.8/3.0,11/K/0/0.5,11/R/0.5/3.0,12/G/0/0.3,12/S/0.3/0.6,13/A/0/0.2,13/S/0.2/0.45,14/E/0/0.2,14/D/0.2/0.5,15/E/0/0.3,15/D/0.3/2.5,16/A/0/0.3,16/P/0.3/2.1,17/T/0/0.2,17/S/0.2/0.45,18/L/0/0.2,18/M/0.2/0.45,19/I/0/0.35,19/V/0.35/0.8,20/L/0/0.3,20/V/0.3/0.7,20/I/0.7/1.5,21/I/0/0.3,21/T/0.3/0.6,21/V/0.6/1.2,22/V/0/0.2,22/S/0.2/0.6,22/T/0.6/2.7,23/F/0/0.4,23/Y/0.4/3.2,24/Q/0/0.2,24/D/0.2/0.5,24/E/0.5/1.2,25/N/0/0.3,25/G/0.3/2.2,26/K/0/0.2,26/E/0.2/0.5,27/N/0/0.3,27/H/0.3/2.2,28/C/0/0.4,28/H/0.4/0.8,28/N/0.8/1.5,29/Y/0/0.3,29/C/0.3/0.7,29/H/0.7/2.2}
\logoset{3}{1/D/0/3.9,2/N/0/0.4,2/G/0.4/2.8,3/F/0/0.2,3/H/0.2/0.5,3/Y/0.5/1.2,4/S/0/0.3,4/N/0.3/3.0,5/W/0/3.9,6/R/0/3.9,7/K/0/3.9,8/Y/0/3.9,9/G/0/3.9,10/Q/0/3.5,11/K/0/3.9,12/M/0/0.2,12/H/0.2/0.5,12/Q/0.5/1.2,13/I/0/0.3,13/M/0.3/0.6,13/V/0.6/1.5,14/H/0/0.4,14/K/0.4/3.9,15/D/0/0.3,15/N/0.3/0.6,15/G/0.6/1.7,16/A/0/0.2,16/P/0.2/0.5,16/S/0.5/2.6,17/D/0/0.6,17/E/0.6/2.3,18/K/0/0.3,18/Y/0.3/0.6,18/N/0.6/1.4,19/P/0/3.9,20/R/0/3.9,21/H/0/0.3,21/K/0.3/0.7,21/R/0.7/2.3,22/N/0/0.2,22/I/0.2/0.45,22/T/0.45/0.8,23/L/0/0.2,23/I/0.2/0.5,23/V/0.5/1.7,24/K/0/0.4,24/R/0.4/3.3,25/D/0/0.4,25/E/0.4/3.3,26/S/0/0.4,26/P/0.4/3.3,27/K/0/0.5,27/R/0.5/2.5,28/I/0/0.4,28/V/0.4/1.4,29/L/0/0.3,29/V/0.3/1.4}
\logoset{4}{1/S/0/0.2,1/K/0.2/0.6,1/R/0.6/1.4,2/P/0/0.25,2/K/0.25/0.6,3/G/0/0.15,3/P/0.15/0.4,4/K/0/0.4,4/R/0.4/3.3,5/L/0/0.3,5/A/0.3/0.6,5/V/0.6/1.1,6/V/0/0.15,6/R/0.15/0.4,6/A/0.4/0.8,7/A/0/0.5,7/V/0.5/0.9,7/F/0.9/1.7,8/K/0/0.35,8/G/0.35/0.7,8/R/0.7/1.3,9/K/0/0.4,9/A/0.4/0.8,9/T/0.8/1.6,10/S/0/0.3,10/K/0.3/0.7,10/R/0.7/1.7,11/A/0/0.3,11/S/0.3/1.8}
\logoset{5}{1/Q/0/0.3,1/A/0.3/0.8,1/P/0.8/2.7,2/L/0/0.3,2/A/0.3/0.8,2/W/0.8/2.3,3/A/0/0.4,3/P/0.4/3.9,4/S/0/0.4,4/H/0.4/0.9,4/T/0.9/2.3,5/L/0/0.5,5/Q/0.5/2.7,6/K/0/0.3,6/R/0.3/3.3,7/N/0/3.9,8/S/0/0.3,8/A/0.3/3.3,9/I/0/0.5,9/L/0.5/3.0,10/V/0/0.3,10/I/0.3/0.8,10/A/0.8/3.3,11/G/0/3.9,12/I/0/0.3,12/S/0.3/1.0,12/T/1.0/2.6,13/I/0/0.4,13/T/0.4/3.9,14/R/0/3.9,15/K/0/0.4,15/H/0.4/1.0,15/N/1.0/1.9,16/A/0/0.4,16/H/0.4/0.9,16/K/0.9/1.6,17/K/0/0.5,17/H/0.5/1.0,17/P/1.0/1.6,18/A/0/0.5,18/K/0.5/0.9,18/S/0.9/1.4,19/A/0/0.5,19/P/0.5/0.9,19/S/0.9/1.4,20/P/0/0.3,20/A/0.3/0.7,20/S/0.7/1.4,21/G/0/0.3,21/A/0.3/0.8,21/S/0.8/1.4}
\logoset{6}{1/L/0/0.3,1/G/0.3/0.6,1/P/0.6/2.9,2/P/0/0.5,2/L/0.5/3.0,3/S/0/0.3,3/P/0.3/3.0,4/A/0/0.4,4/P/0.4/3.0,5/S/0/0.5,5/A/0.5/2.0,6/V/0/0.4,6/T/0.4/0.8,6/A/0.8/1.7,7/A/0/0.4,7/M/0.4/0.8,7/T/0.8/1.4,8/P/0/0.5,8/A/0.5/2.3,9/A/0/0.5,9/M/0.5/3.0,10/S/0/0.5,10/A/0.5/3.0,11/N/0/0.6,11/S/0.6/2.7,12/S/0/0.6,12/T/0.6/3.9,13/A/0/0.5,13/T/0.5/3.9,14/T/0/0.3,14/S/0.3/3.0,15/S/0/0.4,15/A/0.4/2.0,16/T/0/0.5,16/A/0.5/2.0,17/V/0/0.4,17/A/0.4/2.0,18/S/0/0.5,18/A/0.5/2.0,19/L/0/0.4,19/M/0.4/2.9,20/T/0/0.3,20/L/0.3/2.9,21/F/0/0.6,21/L/0.6/2.9,22/G/0/0.3,22/Y/0.3/0.8,22/S/0.8/2.3,23/S/0/0.3,23/P/0.3/0.9,23/G/0.9/2.6,24/P/0/0.7,24/M/0.7/1.3,24/S/1.3/2.0,25/A/0/0.8,25/S/0.8/1.4,25/T/1.4/2.0,26/A/0/0.6,26/P/0.6/1.4,26/T/1.4/2.0,27/A/0/0.4,27/T/0.4/1.0,27/S/1.0/3.0,28/S/0/0.3,28/R/0.3/0.7,28/A/0.7/1.2,29/A/0/0.5,29/D/0.5/1.4}
\logoset{7}{1/K/0/0.3,1/R/0.3/0.75,1/G/0.75/1.3,2/K/0/0.5,2/S/0.5/1.0,2/R/1.0/2.2,3/K/0/0.4,3/R/0.4/2.2,4/R/0/0.3,4/K/0.3/2.4,5/S/0/0.3,5/N/0.3/0.7,6/K/0/0.35,6/Y/0.35/0.7,6/R/0.7/1.3,7/I/0/0.4,7/V/0.4/0.8,8/R/0/0.3,8/K/0.3/2.2,9/K/0/0.6,9/R/0.6/2.2,10/I/0/0.5,10/V/0.5/1.3,11/L/0/0.3,11/I/0.3/0.9,11/V/0.9/1.5,12/A/0/0.4,12/V/0.4/0.9,12/K/0.9/1.3,13/L/0/0.3,13/I/0.3/0.9,13/V/0.9/1.5,14/A/0/0.5,14/P/0.5/2.5,15/P/0/0.4,15/A/0.4/1.3}
\logoset{8}{1/A/0/0.4,1/M/0.4/1.05,1/V/1.15/2.3,2/G/0/0.4,2/S/0.4/0.9,3/D/0/0.5,3/E/0.5/2.4,4/D/0/0.3,4/E/0.3/3.6,5/S/0/0.4,5/N/0.4/3.6,6/K/0/0.6,6/R/0.6/2.9,7/K/0/0.3,7/R/0.3/2.9,8/I/0/0.4,8/L/0.4/2.9,9/K/0/0.5,9/E/0.5/0.9,9/R/0.9/1.5,10/Q/0/0.2,10/D/0.2/0.5,10/E/0.5/0.9,11/I/0/0.3,11/L/0.3/0.8,11/M/0.8/2.4,12/V/0/0.3,12/A/0.3/0.8,12/L/0.8/1.8,13/S/0/0.2,13/E/0.2/0.5,13/A/0.5/1.05,14/V/0/0.2,14/G/0.2/0.5,14/A/0.5/1.1,15/L/0/0.3,15/A/0.3/0.7,15/V/0.7/1.4,16/A/0/0.3,16/S/0.3/0.6,16/T/0.6/1.3,17/T/0/0.3,17/S/0.3/0.7,17/A/0.7/1.5,18/G/0/0.3,18/A/0.3/0.6,18/S/0.6/1.2,19/H/0/0.3,19/F/0.3/0.8,19/Y/0.8/2.2,20/A/0/0.4,20/G/0.4/0.9,21/P/0/0.3,21/S/0.3/0.8,21/A/0.8/1.8,22/F/0/0.4,22/V/0.4/0.9,22/L/0.9/1.8,23/K/0/0.5,23/R/0.5/1.0,23/Q/1.0/2.2,24/S/0/0.3,24/G/0.3/0.6,24/Q/0.6/1.2,25/A/0/0.3,25/G/0.3/0.7,26/S/0/0.4,26/Q/0.4/0.9,26/L/0.9/1.8,27/S/0/0.2,27/L/0.2/0.5,27/T/0.5/1.05,28/T/0/0.4,28/S/0.4/0.9,29/L/0/0.2,29/S/0.2/0.6,29/M/0.6/1.3}
\logoset{9}{1/N/0/3.95,2/A/0/0.6,2/R/0.6/1.7,3/V/0/0.2,3/A/0.2/0.8,3/E/0.8/2.8,4/V/0/0.4,4/A/0.4/1.1,5/A/0/0.6,5/V/0.6/2.0,6/D/0/0.4,6/E/0.4/2.8,7/T/0/0.4,7/S/0.4/2.8,8/S/0/0.3,8/C/0.3/2.8,9/R/0/0.3,9/H/0.3/2.8,10/R/0/3.9,11/I/0/0.5,11/V/0.5/2.7,12/V/0/0.4,12/L/0.4/2.7,13/S/0/0.4,13/A/0.4/2.7,14/M/0/0.3,14/L/0.3/2.7,15/I/0/0.5,15/L/0.5/2.7,16/A/0/0.3,16/S/0.3/3.1,17/A/0/0.2,17/H/0.2/0.9,17/Q/0.9/1.8,18/H/0/0.4,18/P/0.4/1.0,18/Q/1.0/2.0,19/Q/0/0.4,19/R/0.4/0.9,19/H/0.9/2.55,20/E/0/0.4,20/D/0.4/3.1,21/A/0/0.3,21/P/0.3/3.1,22/S/0/0.3,22/Q/0.3/0.7,22/A/0.7/1.9,23/L/0/0.4,23/A/0.4/1.0,23/Q/1.0/1.8,24/Q/0/0.4,24/A/0.4/0.8,24/L/0.8/1.5,25/K/0/0.8,25/R/0.8/2.8,26/A/0/0.3,26/S/0.3/2.7,27/A/0/0.6,27/V/0.6/1.7,28/L/0/0.7,28/A/0.7/2.0,29/A/0/0.3,29/E/0.3/0.8,29/S/0.8/2.0,30/T/0/0.7,30/G/0.7/2.0,31/A/0/0.5,31/E/0.5/1.2,31/T/1.2/3.2,32/A/0/0.3,32/E/0.3/1.0,32/D/1.0/3.2,33/T/0/0.3,33/A/0.3/0.9,33/E/0.9/2.8,34/T/0/0.5,34/A/0.5/2.8,35/A/0/0.3,35/C/0.3/2.8,36/G/0/0.5,36/A/0.5/2.8,37/R/0/0.3,37/K/0.3/2.8,38/R/0/0.5,38/T/0.5/1.3,38/F/1.3/3.9,39/K/0/0.3,39/R/0.3/3.1,40/R/0/0.3,40/K/0.3/3.1,41/A/0/0.6,41/V/0.6/2.0,42/S/0/0.3,42/A/0.3/1.0,42/V/1.0/1.7,43/L/0/0.3,43/A/0.3/1.0,43/S/1.0/2.0,44/A/0/0.6,44/L/0.6/2.8,45/A/0/0.5,45/L/0.5/2.8,46/G/0/1.0,46/S/1.0/2.55,47/N/0/0.9,47/S/0.9/2.55}
\logoset{10}{1/G/0/0.5,1/S/0.5/0.9,1/N/0.9/1.9,2/A/0/0.3,2/S/0.3/0.6,2/L/0.6/1.2,3/S/0/0.3,3/G/0.3/0.6,3/A/0.6/2.1,4/A/0/0.3,4/Q/0.3/0.8,4/E/0.8/2.1,5/H/0/0.4,5/Q/0.4/0.8,5/T/0.8/1.8,6/A/0/0.2,6/E/0.2/0.6,6/M/0.6/2.4,7/S/0/0.3,7/A/0.3/3.9,8/A/0/0.4,8/K/0.4/0.9,8/V/0.9/2.1,9/S/0/0.3,9/A/0.3/1.2,9/T/1.2/2.4,10/I/0/0.3,10/A/0.3/0.9,10/L/0.9/2.5,11/A/0/1.0,11/T/1.0/3.4,12/K/0/0.6,12/R/0.6/2.7,13/D/0/3.9,14/A/0/0.3,14/P/0.3/3.6,15/K/0/0.3,15/G/0.3/0.7,15/S/0.7/1.6,16/L/0/0.5,16/Q/0.5/1.2,16/F/1.2/3.9,17/E/0/0.4,17/Q/0.4/1.0,17/K/1.0/2.1,18/S/0/0.5,18/A/0.5/2.1,19/L/0/0.5,19/A/0.5/2.7,20/A/0/0.6,20/L/0.6/2.1,21/A/0/0.5,21/V/0.5/1.5,22/V/0/0.3,22/S/0.3/0.8,22/A/0.8/3.0,23/S/0/0.3,23/T/0.3/0.7,23/A/0.7/2.4,24/A/0/1.0,24/L/1.0/3.4,25/A/0/0.3,25/T/0.3/0.7,25/S/0.7/2.1,26/V/0/0.4,26/S/0.4/0.8,26/G/0.8/2.4,27/M/0/0.3,27/L/0.3/0.6,27/R/0.6/2.4,28/A/0/0.4,28/V/0.4/0.8,28/I/0.8/2.1,29/V/0/0.3,29/G/0.3/0.8,29/L/0.8/1.6}
\end{tikzpicture}
\end{document}
